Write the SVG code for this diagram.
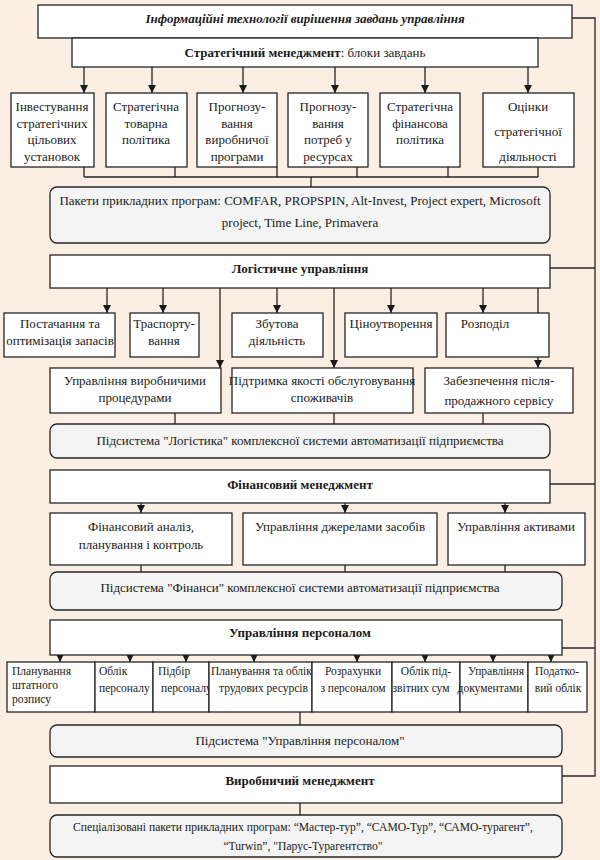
<svg xmlns="http://www.w3.org/2000/svg" width="600" height="860" viewBox="0 0 600 860">
<style>
.box{fill:#ffffff;stroke:#262626;stroke-width:1.3}
.sub{fill:#f4f4f4;stroke:#262626;stroke-width:1.3}
.ln{fill:none;stroke:#262626;stroke-width:1.3}
.ar{fill:none;stroke:#262626;stroke-width:1.3;marker-end:url(#ah)}
text{font-family:"Liberation Serif","Times New Roman",serif;font-size:13px;fill:#1a1a1a}
.c{text-anchor:middle}
.b{font-weight:bold}
.s{font-size:11.6px}
.r{font-size:11.5px}
</style>
<defs>
<marker id="ah" markerUnits="userSpaceOnUse" markerWidth="10" markerHeight="10" refX="9" refY="5" orient="auto">
<path d="M1,1 L9,5 L1,9 Z" fill="#1a1a1a"/>
</marker>
</defs>
<rect x="0" y="0" width="600" height="860" fill="#fbeee3"/>

<g id="connectors">
<polyline class="ln" points="572,18 595,18 595,776 562,776"/>
<line class="ln" x1="550" y1="268" x2="595" y2="268"/>
<line class="ln" x1="550" y1="484" x2="595" y2="484"/>
<line class="ln" x1="562" y1="648" x2="595" y2="648"/>
<line class="ar" x1="84" y1="67" x2="84" y2="93"/>
<line class="ar" x1="152" y1="67" x2="152" y2="93"/>
<line class="ar" x1="243" y1="67" x2="243" y2="93"/>
<line class="ar" x1="335" y1="67" x2="335" y2="93"/>
<line class="ar" x1="425" y1="67" x2="425" y2="93"/>
<line class="ar" x1="528" y1="67" x2="528" y2="93"/>
<path class="ln" d="M84,167V177M175,167V177M277,167V177M357,167V177M448,167V177M538,167V177M84,177H538M311,177V187"/>
<line class="ar" x1="107" y1="288" x2="107" y2="313"/>
<line class="ar" x1="163" y1="288" x2="163" y2="313"/>
<line class="ar" x1="277" y1="288" x2="277" y2="313"/>
<line class="ar" x1="391" y1="288" x2="391" y2="313"/>
<line class="ar" x1="483" y1="288" x2="483" y2="313"/>
<line class="ar" x1="220" y1="288" x2="220" y2="368"/>
<line class="ar" x1="334" y1="288" x2="334" y2="368"/>
<line class="ar" x1="538" y1="288" x2="538" y2="368"/>
<path class="ln" d="M175,413V424M334,413V424M483,413V424"/>
<line class="ar" x1="141" y1="503" x2="141" y2="513"/>
<line class="ar" x1="345" y1="503" x2="345" y2="513"/>
<line class="ar" x1="505" y1="503" x2="505" y2="513"/>
<path class="ln" d="M141,565V572M345,565V572M505,565V572"/>
<line class="ar" x1="60" y1="655" x2="60" y2="662"/>
<line class="ar" x1="130" y1="655" x2="130" y2="662"/>
<line class="ar" x1="186" y1="655" x2="186" y2="662"/>
<line class="ar" x1="254" y1="655" x2="254" y2="662"/>
<line class="ar" x1="357" y1="655" x2="357" y2="662"/>
<line class="ar" x1="425" y1="655" x2="425" y2="662"/>
<line class="ar" x1="493" y1="655" x2="493" y2="662"/>
<line class="ar" x1="551" y1="655" x2="551" y2="662"/>
<path class="ln" d="M300,712V725M300,803V815"/>
</g>

<g id="title">
<rect class="box" x="38" y="5" width="534" height="33"/>
<text class="c b" x="305" y="23" font-style="italic">Інформаційні технології вирішення завдань управління</text>
</g>
<g id="strategic">
<rect class="box" x="72" y="38" width="466" height="29"/>
<text class="c" x="305" y="57"><tspan class="b">Стратегічний менеджмент</tspan>: блоки завдань</text>
</g>

<g id="s1"><rect class="box" x="11" y="93" width="83" height="74"/>
<text class="c" x="52" y="111">Інвестування</text><text class="c" x="52" y="127.5">стратегічних</text><text class="c" x="52" y="144">цільових</text><text class="c" x="52" y="160.5">установок</text></g>
<g id="s2"><rect class="box" x="106" y="93" width="81" height="74"/>
<text class="c" x="146" y="111">Стратегічна</text><text class="c" x="146" y="127.5">товарна</text><text class="c" x="146" y="144">політика</text></g>
<g id="s3"><rect class="box" x="197" y="93" width="80" height="74"/>
<text class="c" x="237" y="111">Прогнозу-</text><text class="c" x="237" y="127.5">вання</text><text class="c" x="237" y="144">виробничої</text><text class="c" x="237" y="160.5">програми</text></g>
<g id="s4"><rect class="box" x="288" y="93" width="80" height="74"/>
<text class="c" x="328" y="111">Прогнозу-</text><text class="c" x="328" y="127.5">вання</text><text class="c" x="328" y="144">потреб у</text><text class="c" x="328" y="160.5">ресурсах</text></g>
<g id="s5"><rect class="box" x="380" y="93" width="80" height="74"/>
<text class="c" x="420" y="111">Стратегічна</text><text class="c" x="420" y="127.5">фінансова</text><text class="c" x="420" y="144">політика</text></g>
<g id="s6"><rect class="box" x="483" y="93" width="91" height="74"/>
<text class="c" x="528" y="111">Оцінки</text><text class="c" x="528" y="136">стратегічної</text><text class="c" x="528" y="161">діяльності</text></g>

<g id="packages">
<rect class="sub" x="50" y="187" width="500" height="56" rx="7"/>
<text class="c" x="300" y="205">Пакети прикладних програм: COMFAR, PROPSPIN, Alt-Invest, Project expert, Microsoft</text>
<text class="c" x="300" y="227">project, Time Line, Primavera</text>
</g>

<g id="logistics">
<rect class="box" x="50" y="255" width="500" height="33"/>
<text class="c b" x="300" y="273">Логістичне управління</text>
</g>
<g id="l1"><rect class="box" x="4" y="313" width="111" height="44"/>
<text class="c" x="60" y="328">Постачання та</text><text class="c" x="60" y="345">оптимізація запасів</text></g>
<g id="l2"><rect class="box" x="130" y="313" width="69" height="44"/>
<text class="c" x="164" y="328">Траспорту-</text><text class="c" x="164" y="345">вання</text></g>
<g id="l3"><rect class="box" x="232" y="313" width="91" height="44"/>
<text class="c" x="277" y="328">Збутова</text><text class="c" x="277" y="345">діяльність</text></g>
<g id="l4"><rect class="box" x="345" y="313" width="92" height="44"/>
<text class="c" x="391" y="328">Ціноутворення</text></g>
<g id="l5"><rect class="box" x="446" y="313" width="103" height="44"/>
<text class="c" x="485" y="328">Розподіл</text></g>
<g id="l6"><rect class="box" x="50" y="368" width="171" height="45"/>
<text class="c" x="135" y="385">Управління виробничими</text><text class="c" x="135" y="402">процедурами</text></g>
<g id="l7"><rect class="box" x="232" y="368" width="181" height="45"/>
<text class="c" x="322" y="385">Підтримка якості обслуговування</text><text class="c" x="322" y="402">споживачів</text></g>
<g id="l8"><rect class="box" x="425" y="368" width="148" height="45"/>
<text class="c" x="499" y="385">Забезпечення після-</text><text class="c" x="499" y="405">продажного сервісу</text></g>
<g id="sub-logistics">
<rect class="sub" x="50" y="424" width="500" height="34" rx="7"/>
<text class="c" x="300" y="445">Підсистема "Логістика" комплексної системи автоматизації підприємства</text>
</g>

<g id="finance">
<rect class="box" x="50" y="470" width="500" height="33"/>
<text class="c b" x="300" y="489">Фінансовий менеджмент</text>
</g>
<g id="f1"><rect class="box" x="50" y="513" width="182" height="52"/>
<text class="c" x="141" y="531">Фінансовий аналіз,</text><text class="c" x="141" y="549">планування і контроль</text></g>
<g id="f2"><rect class="box" x="243" y="513" width="194" height="52"/>
<text class="c" x="340" y="531">Управління джерелами засобів</text></g>
<g id="f3"><rect class="box" x="448" y="513" width="137" height="52"/>
<text class="c" x="516" y="531">Управління активами</text></g>
<g id="sub-finance">
<rect class="sub" x="50" y="572" width="512" height="38" rx="7"/>
<text class="c" x="300" y="592">Підсистема "Фінанси" комплексної системи автоматизації підприємства</text>
</g>

<g id="personnel">
<rect class="box" x="50" y="620" width="512" height="35"/>
<text class="c b" x="300" y="637">Управління персоналом</text>
</g>
<g id="p1"><rect class="box" x="7" y="662" width="88" height="50"/>
<text class="r" x="12" y="675">Планування</text><text class="r" x="12" y="689">штатного</text><text class="r" x="12" y="703">розпису</text></g>
<g id="p2"><rect class="box" x="95" y="662" width="58" height="50"/>
<text class="r" x="99" y="675">Облік</text><text class="r" x="99" y="692">персоналу</text></g>
<g id="p3"><rect class="box" x="153" y="662" width="56" height="50"/>
<text class="r" x="158" y="675">Підбір</text><text class="r" x="161" y="692">персоналу</text></g>
<g id="p4"><rect class="box" x="209" y="662" width="103" height="50"/>
<text class="r" x="211" y="675">Планування та облік</text><text class="r" x="219" y="692">трудових ресурсів</text></g>
<g id="p5"><rect class="box" x="312" y="662" width="80" height="50"/>
<text class="r c" x="353" y="675">Розрахунки</text><text class="r c" x="353" y="692">з персоналом</text></g>
<g id="p6"><rect class="box" x="392" y="662" width="68" height="50"/>
<text class="r c" x="426" y="675">Облік під-</text><text class="r c" x="421" y="692">звітних сум</text></g>
<g id="p7"><rect class="box" x="460" y="662" width="68" height="50"/>
<text class="r c" x="496" y="675">Управління</text><text class="r c" x="490" y="692">документами</text></g>
<g id="p8"><rect class="box" x="528" y="662" width="59" height="50"/>
<text class="r c" x="557" y="675">Податко-</text><text class="r c" x="558" y="692">вий облік</text></g>
<g id="sub-personnel">
<rect class="sub" x="50" y="725" width="512" height="32" rx="7"/>
<text class="c" x="300" y="745">Підсистема "Управління персоналом"</text>
</g>

<g id="production">
<rect class="box" x="50" y="766" width="512" height="37"/>
<text class="c b" x="300" y="785">Виробничий менеджмент</text>
</g>
<g id="special">
<rect class="sub" x="50" y="815" width="512" height="42" rx="7"/>
<text class="c s" x="303" y="831">Спеціалізовані пакети прикладних програм: “Мастер-тур”, “САМО-Тур”, “САМО-турагент”,</text>
<text class="c s" x="303" y="850">“Turwin”, "Парус-Турагентство"</text>
</g>
</svg>
